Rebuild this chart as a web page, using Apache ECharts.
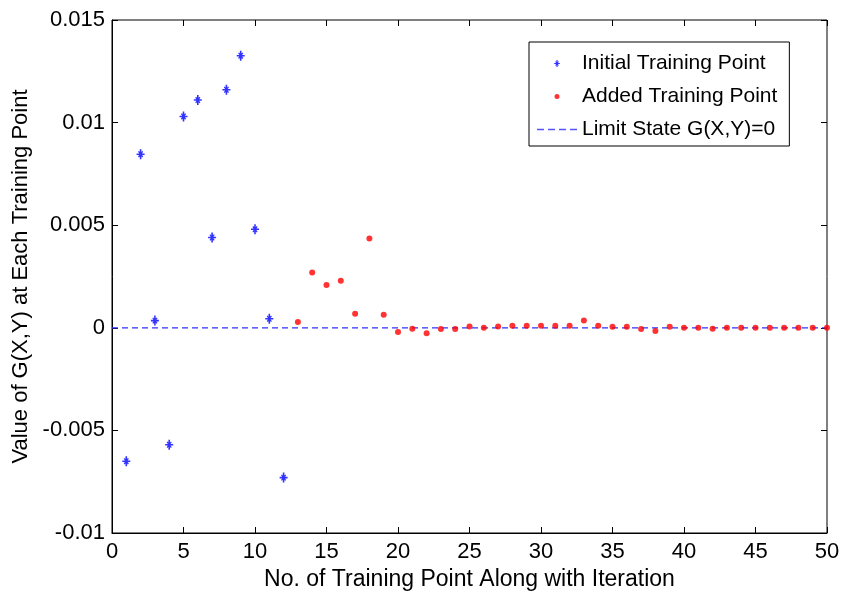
<!DOCTYPE html>
<html>
<head>
<meta charset="utf-8">
<script src="https://cdn.jsdelivr.net/npm/echarts@6/dist/echarts.min.js"></script>
<style>
  html, body { margin: 0; padding: 0; background: #fff; }
  #main { width: 856px; height: 592px; }
</style>
</head>
<body>
<div id="main"></div>
<script>
  // initial training points 1..12
  const initX = [1, 2, 3, 4, 5, 6, 7, 8, 9, 10, 11, 12];
  const initY = [-0.0065, 0.00846, 0.00035, -0.0057, 0.0103, 0.0111, 0.0044, 0.0116, 0.01326, 0.0048, 0.00044, -0.0073];
  // added training points 13..50
  const addX = [13, 14, 15, 16, 17, 18, 19, 20, 21, 22, 23, 24, 25, 26, 27, 28, 29, 30, 31, 32,
    33, 34, 35, 36, 37, 38, 39, 40, 41, 42, 43, 44, 45, 46, 47, 48, 49, 50];
  const addY = [0.00028, 0.00269, 0.00208, 0.00229, 0.00068, 0.00435, 0.00063, -0.0002, -0.00005, -0.00027,
    -0.00006, -0.00006, 0.00006, 0, 0.00006, 0.0001, 0.0001, 0.0001, 0.0001, 0.0001,
    0.00036, 0.0001, 0.00005, 0.00005, -0.00006, -0.00016, 0.00005, 0, 0, -0.00005,
    0, 0, 0, 0, 0, 0, 0, 0];
  // limit state line G(X,Y)=0
  const limitX = [0, 50];
  const limitY = [0, 0];
  const yTicks = [-0.01, -0.005, 0, 0.005, 0.01, 0.015];

  const font = 'Liberation Sans, Arial, sans-serif';
  // matlab-like '*' marker: bold plus with short diagonals, 8x10 box
  const star = 'path://M3.2,0h1.6v10h-1.6z M0,4.2h8v1.6h-8z M1.4,2.6L2.4,1.8L6.6,7.4L5.6,8.2z M5.6,1.8L6.6,2.6L2.4,8.2L1.4,7.4z';
  // tiny corner squares keep the box 7x7 so the dot stays small
  const dot = 'path://M0,0h0.01v0.01h-0.01z M7,7h-0.01v-0.01h0.01z M1,3.5a2.5,2.5 0 1,0 5,0a2.5,2.5 0 1,0 -5,0z';
  const dash = 'path://M0,0h7v1.4h-7z M11,0h7v1.4h-7z M22,0h7v1.4h-7z M33,0h7v1.4h-7z';

  const chart = echarts.init(document.getElementById('main'));
  const tickStyle = { show: true, inside: true, length: 6, lineStyle: { color: '#000' } };
  chart.setOption({
    animation: false,
    textStyle: { fontFamily: font },
    grid: {
      left: 112, right: 29, top: 20, bottom: 59,
      outerBoundsMode: 'none',
      show: true, borderColor: '#000', borderWidth: 1
    },
    legend: {
      orient: 'vertical',
      left: 529, top: 42,
      padding: [11, 12, 6, 8],
      itemGap: 12,
      itemWidth: 40, itemHeight: 7,
      backgroundColor: '#fff',
      borderColor: '#000', borderWidth: 1,
      textStyle: { fontSize: 21, color: '#000', fontFamily: font },
      data: [
        { name: 'Initial Training Point', icon: star, itemStyle: { color: '#0000ff' } },
        { name: 'Added Training Point', icon: dot, itemStyle: { color: '#ff0000' } },
        { name: 'Limit State G(X,Y)=0', icon: dash, itemStyle: { color: '#5555ff' } }
      ]
    },
    xAxis: [{
      type: 'value', min: 0, max: 50, interval: 5,
      name: 'No. of Training Point Along with Iteration',
      nameLocation: 'middle', nameGap: 30,
      nameTextStyle: { fontSize: 23, color: '#000' },
      axisLine: { onZero: false, lineStyle: { color: '#000' } },
      axisTick: tickStyle,
      axisLabel: { fontSize: 22, color: '#000', margin: 8 },
      splitLine: { show: false }
    }, {
      type: 'value', min: 0, max: 50, interval: 5, position: 'top',
      axisLine: { show: false, onZero: false }, axisTick: tickStyle,
      axisLabel: { show: false }, splitLine: { show: false }
    }],
    yAxis: [{
      type: 'value', min: yTicks[0], max: yTicks[yTicks.length - 1], interval: 0.005,
      name: 'Value of G(X,Y) at Each Training Point',
      nameLocation: 'middle', nameGap: 79,
      nameTextStyle: { fontSize: 22, color: '#000' },
      axisLine: { onZero: false, lineStyle: { color: '#000' } },
      axisTick: tickStyle,
      axisLabel: { fontSize: 22, color: '#000', margin: 7 },
      splitLine: { show: false }
    }, {
      type: 'value', min: yTicks[0], max: yTicks[yTicks.length - 1], interval: 0.005, position: 'right',
      axisLine: { show: false, onZero: false }, axisTick: tickStyle,
      axisLabel: { show: false }, splitLine: { show: false }
    }],
    series: [{
      name: 'Limit State G(X,Y)=0',
      type: 'line',
      data: limitX.map((x, i) => [x, limitY[i]]),
      symbol: 'none',
      lineStyle: { color: '#3030ff', width: 1.2, type: [6, 4] },
      itemStyle: { color: '#5555ff' },
      z: 1
    }, {
      name: 'Initial Training Point',
      type: 'scatter',
      data: initX.map((x, i) => [x, initY[i]]),
      symbol: star,
      symbolSize: [8, 10],
      itemStyle: { color: '#0000ff' },
      z: 3
    }, {
      name: 'Added Training Point',
      type: 'scatter',
      data: addX.map((x, i) => [x, addY[i]]),
      symbol: 'circle',
      symbolSize: 6,
      itemStyle: { color: '#ff0000' },
      z: 3
    }]
  });
</script>
</body>
</html>
